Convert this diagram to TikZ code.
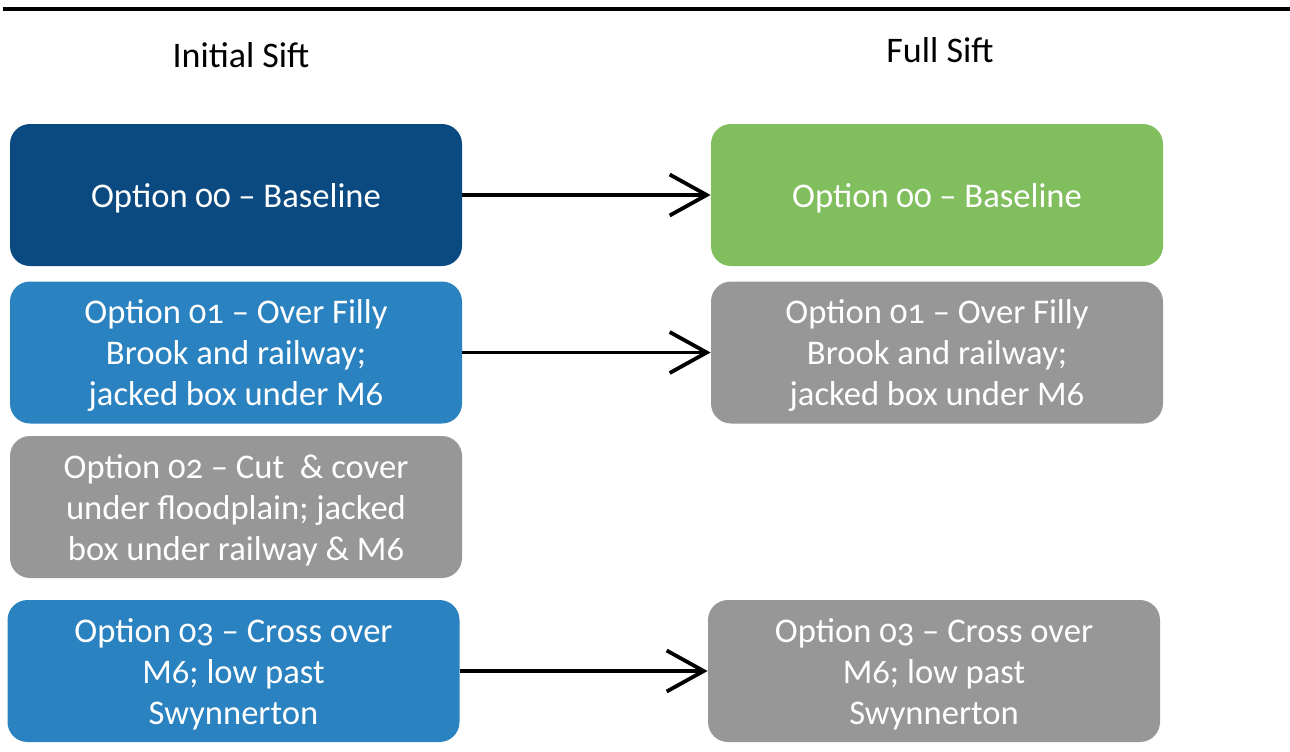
\documentclass[tikz,border=0pt]{standalone}
\usepackage{fontspec}
\setmainfont{Carlito}[Numbers=OldStyle]
\usetikzlibrary{arrows.meta}
\definecolor{navy}{HTML}{0B4A80}
\definecolor{midblue}{HTML}{2A82C0}
\definecolor{midgray}{HTML}{979797}
\definecolor{leafgreen}{HTML}{81BE5E}
% box text: centred lines, set a little below the box centre
\newcommand{\boxlines}[1]{\raisebox{0pt}[\dimexpr\height+4pt\relax][\depth]{\begin{tabular}{@{}c@{}}#1\end{tabular}}}
\tikzset{
  optbox/.style={rounded corners=10pt, minimum width=226pt, minimum height=71pt,
    text=white, align=center, inner sep=0pt, font=\fontsize{17.3}{20.5}\selectfont},
  header/.style={font=\fontsize{18}{21}\selectfont, text=black},
  flow/.style={line width=1.9pt, -{Straight Barb[length=18.5pt, width=20.5pt, line width=1.9pt]}}
}
\begin{document}
\begin{tikzpicture}[x=0.5pt, y=-0.5pt]
\useasboundingbox (0,0) rectangle (1290,751);
% rule across the top
\draw[line width=2pt] (3,8.5) -- (1290,8.5);
% column headings
\node[header] (hinit) at (241,55) {Initial Sift};
\node[header] (hfull) at (940,50) {Full Sift};
% initial sift column
\node[optbox, fill=navy] (a0) at (236,195) {\boxlines{Option 00 – Baseline}};
\node[optbox, fill=midblue] (a1) at (236,352.5) {\boxlines{Option 01 – Over Filly\\Brook and railway;\\jacked box under M6}};
\node[optbox, fill=midgray] (a2) at (236,507) {\boxlines{Option 02 – Cut\ \ \& cover\\under floodplain; jacked\\box under railway \& M6}};
\node[optbox, fill=midblue] (a3) at (233.5,671) {\boxlines{Option 03 – Cross over\\M6; low past\\Swynnerton}};
% full sift column
\node[optbox, fill=leafgreen] (b0) at (937,195) {\boxlines{Option 00 – Baseline}};
\node[optbox, fill=midgray] (b1) at (937,352.5) {\boxlines{Option 01 – Over Filly\\Brook and railway;\\jacked box under M6}};
\node[optbox, fill=midgray] (b3) at (934,671) {\boxlines{Option 03 – Cross over\\M6; low past\\Swynnerton}};
% options carried forward
\draw[flow] (a0) -- (b0);
\draw[flow] (a1) -- (b1);
\draw[flow] (a3) -- (b3);
\end{tikzpicture}
\end{document}
